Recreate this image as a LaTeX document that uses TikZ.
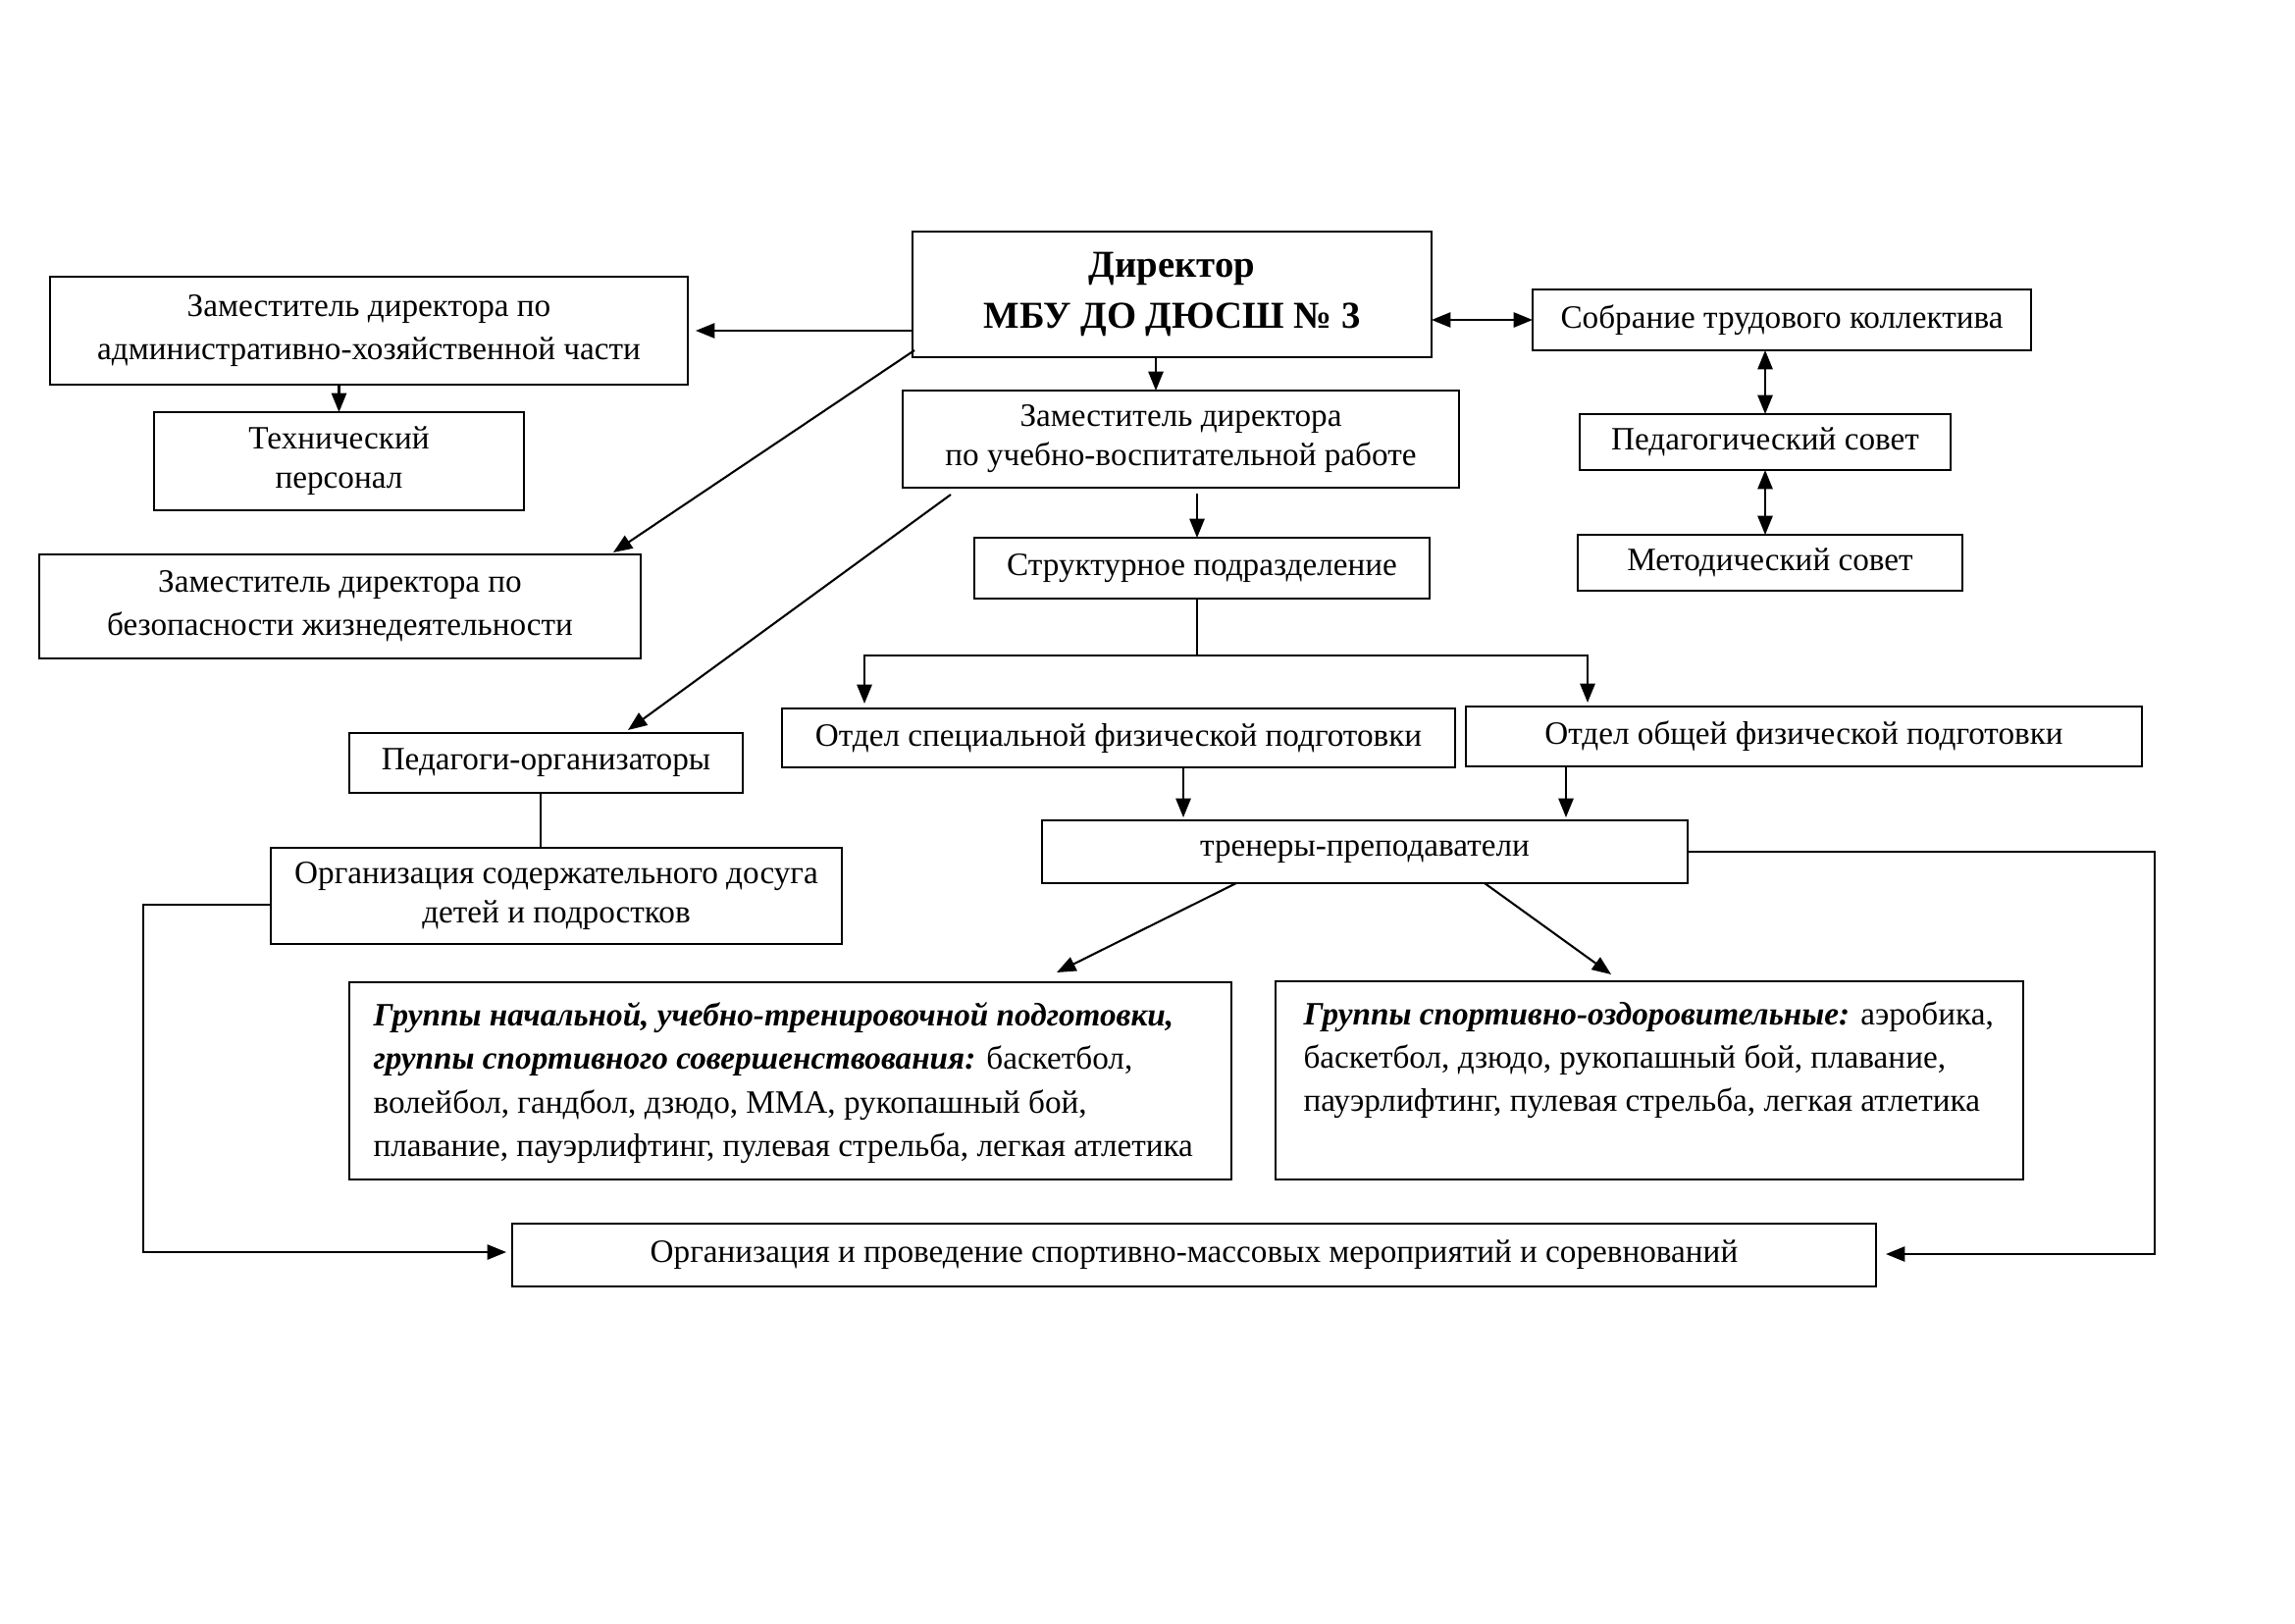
\documentclass[tikz,border=0pt]{standalone}
\usepackage{fontspec}
\setmainfont{Liberation Serif}
\usetikzlibrary{arrows.meta,calc}
\newcommand\mybox[7][]{\node[bx,#1, minimum width={(#5-#3)*0.127mm}, minimum height={(#6-#4)*0.127mm}] (#2) at ({(#3+#5)/2},{(#4+#6)/2}) {#7};}
\begin{document}
\begin{tikzpicture}[x=0.127mm,y=-0.127mm,
  bx/.style={draw, line width=0.95pt, inner sep=0pt, outer sep=0pt, align=center, font=\fontsize{12}{16}\selectfont},
  tight/.style={font=\fontsize{12}{14.5}\selectfont},
  title/.style={font=\fontsize{14}{19}\selectfont\bfseries},
  txt/.style={inner sep=0pt, align=left, anchor=north west, font=\fontsize{12}{16}\selectfont},
  arr/.style={line width=0.75pt, -{Triangle[length=7pt,width=5.5pt]}},
  darr/.style={line width=0.75pt, {Triangle[length=7pt,width=5.5pt]}-{Triangle[length=7pt,width=5.5pt]}},
  ln/.style={line width=0.75pt}]
\useasboundingbox (0,0) rectangle (2339,1654);

\mybox[title]{dir}{930}{236}{1459}{364}{Директор\\МБУ ДО ДЮСШ № 3}
\mybox{axch}{51}{282}{701}{392}{Заместитель директора по\\административно-хозяйственной части}
\mybox[tight]{tech}{157}{420}{534}{520}{Технический\\персонал}
\mybox{bez}{40}{565}{653}{671}{Заместитель директора по\\безопасности жизнедеятельности}
\mybox{sobr}{1562}{295}{2070}{357}{Собрание трудового коллектива}
\mybox{ped}{1610}{422}{1988}{479}{Педагогический совет}
\mybox{met}{1608}{545}{2000}{602}{Методический совет}
\mybox[tight]{uvr}{920}{398}{1487}{497}{Заместитель директора\\по учебно-воспитательной работе}
\mybox{str}{993}{548}{1457}{610}{Структурное подразделение}
\mybox{ots}{797}{722}{1483}{782}{Отдел специальной физической подготовки}
\mybox{oop}{1494}{720}{2183}{781}{Отдел общей физической подготовки}
\mybox{tr}{1062}{836}{1720}{900}{тренеры-преподаватели}
\mybox{pedorg}{356}{747}{757}{808}{Педагоги-организаторы}
\mybox[tight]{dosug}{276}{864}{858}{962}{Организация содержательного досуга\\детей и подростков}
\mybox{g1}{356}{1001}{1255}{1202}{}
\mybox{g2}{1300}{1000}{2062}{1202}{}
\mybox{final}{522}{1247}{1912}{1311}{Организация и проведение спортивно-массовых мероприятий и соревнований}

\node[txt] (g1t) at ($(g1.north west)+(24,20)$) {\textbf{\textit{Группы начальной, учебно-тренировочной подготовки,}}\\
\textbf{\textit{группы спортивного совершенствования:}} баскетбол,\\
волейбол, гандбол, дзюдо, ММА, рукопашный бой,\\
плавание, пауэрлифтинг, пулевая стрельба, легкая атлетика};
\node[txt] (g2t) at ($(g2.north west)+(28,20)$) {\textbf{\textit{Группы спортивно-оздоровительные:}} аэробика,\\
баскетбол, дзюдо, рукопашный бой, плавание,\\
пауэрлифтинг, пулевая стрельба, легкая атлетика};

% helper coordinates
\coordinate (xa) at (1178,0);
\coordinate (xb) at (1220,0);
\coordinate (br) at (1220,668);
\coordinate (xc) at (1206,0);
\coordinate (xd) at (1596,0);
\coordinate (xe) at (551,0);
\coordinate (lb1) at (146,922);
\coordinate (rb1) at (2196,868);

% connectors
\draw[arr] (dir.west |- axch.east) -- ($(axch.east)+(8,0)$);
\draw[arr] (tech.north |- axch.south) -- (tech.north);
\draw[arr] ($(dir.south west)+(2,-7)$) -- ($(bez.north east)+(-28,-2)$);
\draw[darr] (dir.east |- sobr.west) -- (sobr.west);
\draw[darr] (ped.north |- sobr.south) -- (ped.north);
\draw[darr] (ped.south) -- (ped.south |- met.north);
\draw[arr] (dir.south -| xa) -- (uvr.north -| xa);
\draw[arr] ($(uvr.south -| xb)+(0,6)$) -- (str.north -| xb);
\draw[ln] (str.south -| br) -- (br);
\draw[arr] (br) -| ($(ots.north west)+(84,-5)$);
\draw[arr] (br) -| ($(oop.north west)+(124,-4)$);
\draw[arr] (ots.south -| xc) -- ($(tr.north -| xc)+(0,-3)$);
\draw[arr] (oop.south -| xd) -- ($(tr.north -| xd)+(0,-3)$);
\draw[arr] ($(uvr.south west)+(49,7)$) -- ($(pedorg.north west)+(284,-3)$);
\draw[ln] (pedorg.south -| xe) -- (dosug.north -| xe);
\draw[arr] (dosug.west |- lb1) -- (lb1) |- ($(final.west)+(-6,-3)$);
\draw[arr] (tr.east |- rb1) -- (rb1) |- ($(final.east)+(10,-1)$);
\draw[arr] ($(tr.south west)+(198,0)$) -- ($(g1.north west)+(721,-10)$);
\draw[arr] ($(tr.south west)+(451,0)$) -- ($(g2.north west)+(342,-7)$);
\end{tikzpicture}
\end{document}
